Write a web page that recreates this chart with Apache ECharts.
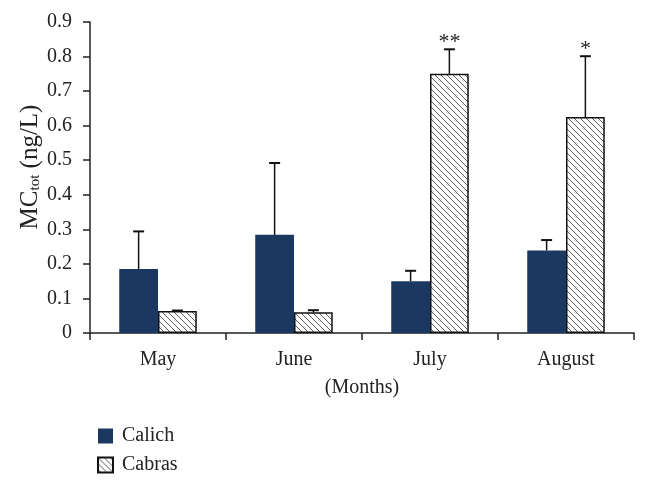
<!DOCTYPE html>
<html><head><meta charset="utf-8">
<script src="https://cdn.jsdelivr.net/npm/echarts@6/dist/echarts.min.js"></script>
<style>html,body{margin:0;padding:0;background:#fff}#c{width:648px;height:484px}</style>
</head><body><div id="c"></div>
<script>
const months = ['May', 'June', 'July', 'August'];
const calich = [0.185, 0.284, 0.150, 0.239];
const calichErr = [0.294, 0.492, 0.180, 0.269];
const cabras = [0.064, 0.060, 0.750, 0.625];
const cabrasErr = [0.065, 0.066, 0.821, 0.801];
const cabrasStars = ['', '', '**', '*'];
const yTicks = [0, 0.1, 0.2, 0.3, 0.4, 0.5, 0.6, 0.7, 0.8, 0.9];

const FONT = 'Liberation Serif';
const NAVY = '#1b3861';
const FS = 20;

function hatch() {
  const c = document.createElement('canvas');
  const s = 6;
  c.width = s; c.height = s;
  const g = c.getContext('2d');
  g.fillStyle = '#fff'; g.fillRect(0, 0, s, s);
  g.strokeStyle = '#333'; g.lineWidth = 0.8;
  g.beginPath();
  g.moveTo(0, 0); g.lineTo(s, s);
  g.moveTo(-s, 0); g.lineTo(s, 2 * s);
  g.moveTo(0, -s); g.lineTo(2 * s, s);
  g.stroke();
  return c;
}
const pattern = { image: hatch(), repeat: 'repeat' };

const CAT_GAP = 0.43;
function errRender(sign, stars) {
  return function (params, api) {
    const i = api.value(0);
    const top = api.value(1);
    const base = api.value(2);
    const catW = api.size([1, 0])[0];
    const bw = catW * (1 - CAT_GAP) / 2;
    const c1 = api.coord([i, top]);
    const c0 = api.coord([i, base]);
    const x = c1[0] + sign * bw / 2;
    const children = [
      { type: 'line', shape: { x1: x, y1: c0[1], x2: x, y2: c1[1] }, style: { stroke: '#111', lineWidth: 1.5 } },
      { type: 'line', shape: { x1: x - 5.5, y1: c1[1], x2: x + 5.5, y2: c1[1] }, style: { stroke: '#111', lineWidth: 2 } }
    ];
    if (stars && stars[i]) {
      children.push({ type: 'text', style: { text: stars[i], x: x, y: c1[1] - 7, align: 'center', verticalAlign: 'middle', font: '22px "' + FONT + '"', fill: '#222' } });
    }
    return { type: 'group', children: children };
  };
}

const chart = echarts.init(document.getElementById('c'), null, { renderer: 'canvas' });
chart.setOption({
  animation: false,
  backgroundColor: '#fff',
  textStyle: { fontFamily: FONT },
  grid: { left: 90, right: 14, top: 22, bottom: 151 },
  graphic: [{
    type: 'text',
    x: 30, y: 167,
    rotation: Math.PI / 2,
    style: {
      text: '{a|MC}{b|tot}{a| (ng/L)}',
      align: 'center', verticalAlign: 'middle',
      rich: {
        a: { fontFamily: FONT, fontSize: 25, fill: '#222' },
        b: { fontFamily: FONT, fontSize: 15, fill: '#222', verticalAlign: 'bottom', padding: [10, 0, 0, 0] }
      }
    }
  }],
  legend: {
    data: ['Calich', 'Cabras'],
    orient: 'vertical',
    left: 92, top: 421,
    itemWidth: 15, itemHeight: 15, itemGap: 9,
    textStyle: { fontFamily: FONT, fontSize: FS, color: '#222', padding: [0, 0, 0, 4] },
    icon: 'rect'
  },
  xAxis: {
    type: 'category',
    data: months,
    name: '(Months)',
    nameLocation: 'middle',
    nameGap: 45,
    nameTextStyle: { fontFamily: FONT, fontSize: FS, color: '#222' },
    axisLine: { lineStyle: { color: '#222', width: 1.5 } },
    axisTick: { show: true, alignWithLabel: false, length: 7, lineStyle: { color: '#222', width: 1.5 } },
    axisLabel: { fontFamily: FONT, fontSize: FS, color: '#222', margin: 17 }
  },
  yAxis: {
    type: 'value',
    min: 0, max: 0.9, interval: 0.1,
    splitLine: { show: false },
    axisLine: { show: true, lineStyle: { color: '#222', width: 1.5 } },
    axisTick: { show: true, length: 7, lineStyle: { color: '#222', width: 1.5 } },
    axisLabel: { fontFamily: FONT, fontSize: FS, color: '#222', margin: 18, formatter: v => yTicks.includes(+v.toFixed(1)) ? String(+v.toFixed(1)) : '' }
  },
  series: [
    { name: 'Calich', type: 'bar', data: calich, barGap: '0%', barCategoryGap: '43%', itemStyle: { color: NAVY } },
    { name: 'Cabras', type: 'bar', data: cabras, itemStyle: { color: pattern, borderColor: '#111', borderWidth: 1.5 } },
    { name: 'errCalich', type: 'custom', renderItem: errRender(-1, null), data: calich.map((v, i) => [i, calichErr[i], v]), z: 5 },
    { name: 'errCabras', type: 'custom', renderItem: errRender(1, cabrasStars), data: cabras.map((v, i) => [i, cabrasErr[i], v]), z: 5 }
  ]
});
</script></body></html>
